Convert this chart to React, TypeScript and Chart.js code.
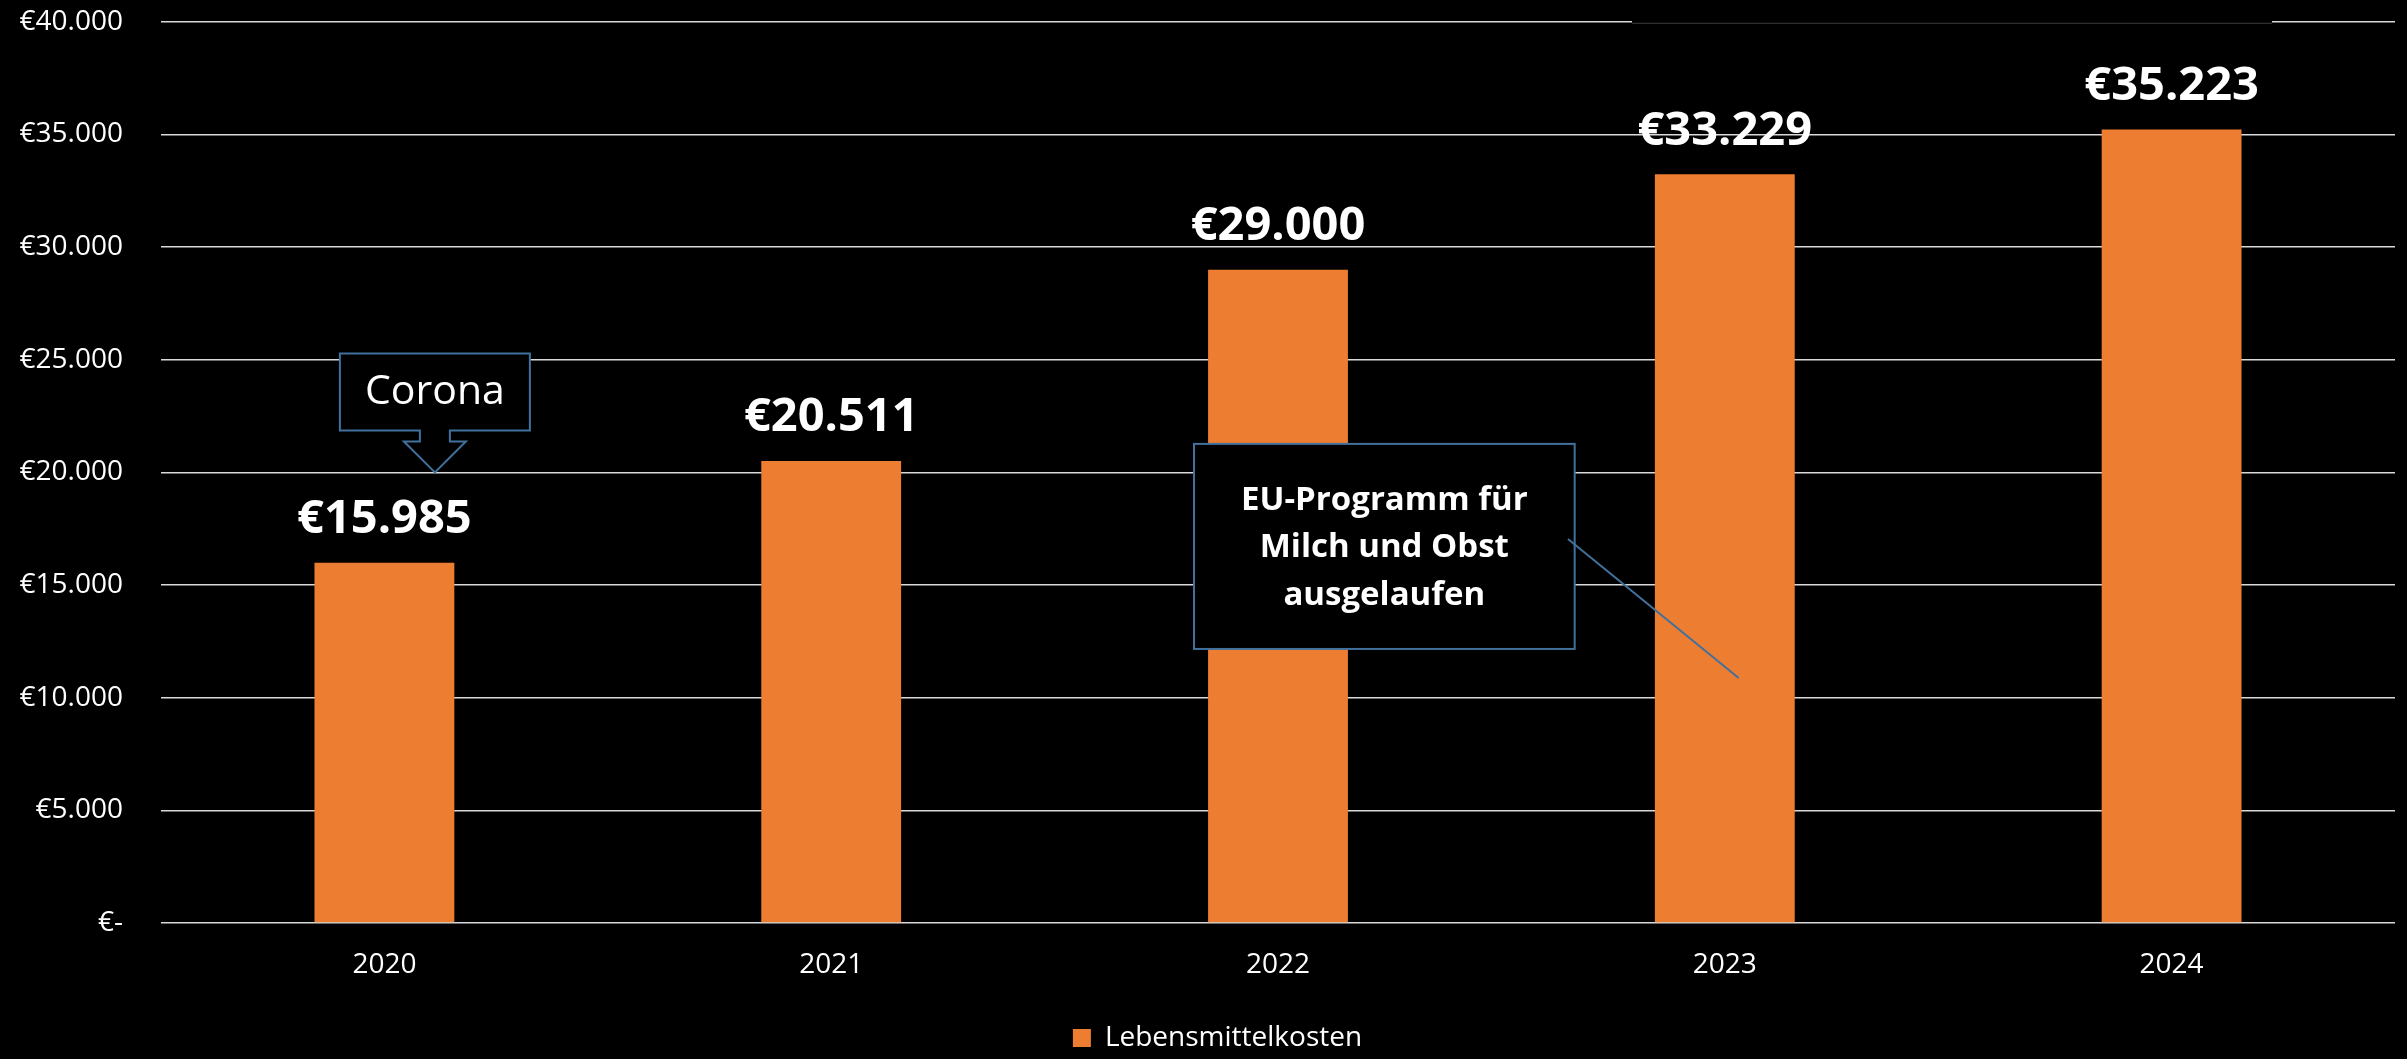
import React, { useEffect, useRef } from 'react';
import { Chart, registerables } from 'chart.js';

Chart.register(...registerables);

const categories = ['2020', '2021', '2022', '2023', '2024'];
const values = [15985, 20511, 29000, 33229, 35223];
const seriesLabel = 'Lebensmittelkosten';
const yMin = 0;
const yMax = 40000;
const yStep = 5000;
const coronaText = 'Corona';
const euText = ['EU-Programm für', 'Milch und Obst', 'ausgelaufen'];

const BAR_COLOR = '#ED7D31';
const CALLOUT_COLOR = '#41719C';
const FONT = '"Open Sans", "Noto Sans", sans-serif';
const SHIFT = 33; // canvas is shifted up to compensate Chart.js tick padding at top

const fmt = (v: number) =>
  v === 0 ? '€-' : '€' + Math.round(v).toString().replace(/\B(?=(\d{3})+(?!\d))/g, '.');

const legendShiftPlugin = {
  id: 'legendShift',
  afterLayout(chart: any) {
    if (chart.legend) {
      chart.legend.left += 20;
      chart.legend.right += 20;
    }
  },
};

const annotationPlugin = {
  id: 'annotations',
  afterDatasetsDraw(chart: any) {
    const ctx = chart.ctx;
    const xs = chart.scales.x;
    const ys = chart.scales.y;
    ctx.save();

    // value labels
    const meta = chart.getDatasetMeta(0);
    ctx.fillStyle = '#FFFFFF';
    ctx.font = `bold 47px ${FONT}`;
    ctx.textAlign = 'center';
    ctx.textBaseline = 'middle';
    meta.data.forEach((bar: any, i: number) => {
      ctx.fillText(fmt(values[i]), bar.x, bar.y - 43);
    });

    // dark strip over top gridline at right (overlapping picture edge)
    const gTop = ys.getPixelForValue(yMax);
    ctx.fillStyle = '#000000';
    ctx.fillRect(1632, gTop - 22, 640, 24);
    ctx.strokeStyle = '#3a3a3a';
    ctx.lineWidth = 1;
    ctx.beginPath();
    ctx.moveTo(1632, gTop + 1.5);
    ctx.lineTo(2272, gTop + 1.5);
    ctx.stroke();

    // Corona callout (arrow pointing down)
    const tx = xs.getPixelForValue(0.113);
    const ty = ys.getPixelForValue(20000);
    const bw = 190;
    const bTop = ty - 119;
    const bBot = ty - 42;
    ctx.beginPath();
    ctx.moveTo(tx - bw / 2, bTop);
    ctx.lineTo(tx + bw / 2, bTop);
    ctx.lineTo(tx + bw / 2, bBot);
    ctx.lineTo(tx + 15, bBot);
    ctx.lineTo(tx + 15, ty - 31);
    ctx.lineTo(tx + 31, ty - 31);
    ctx.lineTo(tx, ty);
    ctx.lineTo(tx - 31, ty - 31);
    ctx.lineTo(tx - 15, ty - 31);
    ctx.lineTo(tx - 15, bBot);
    ctx.lineTo(tx - bw / 2, bBot);
    ctx.closePath();
    ctx.fillStyle = '#000000';
    ctx.fill();
    ctx.strokeStyle = CALLOUT_COLOR;
    ctx.lineWidth = 2;
    ctx.stroke();
    ctx.fillStyle = '#FFFFFF';
    ctx.font = `41px ${FONT}`;
    ctx.fillText(coronaText, tx, (bTop + bBot) / 2);

    // EU callout box with leader line
    const ex1 = xs.getPixelForValue(1.812);
    const ex2 = xs.getPixelForValue(2.664);
    const ey1 = ys.getPixelForValue(21265);
    const ey2 = ys.getPixelForValue(12164);
    ctx.fillStyle = '#000000';
    ctx.fillRect(ex1, ey1, ex2 - ex1, ey2 - ey1);
    ctx.strokeStyle = CALLOUT_COLOR;
    ctx.lineWidth = 2;
    ctx.strokeRect(ex1, ey1, ex2 - ex1, ey2 - ey1);
    ctx.beginPath();
    ctx.moveTo(xs.getPixelForValue(2.649), ys.getPixelForValue(17048));
    ctx.lineTo(xs.getPixelForValue(3.031), ys.getPixelForValue(10877));
    ctx.stroke();
    ctx.fillStyle = '#FFFFFF';
    ctx.font = `bold 33px ${FONT}`;
    const cx = (ex1 + ex2) / 2;
    const cy = (ey1 + ey2) / 2 + 1.5;
    euText.forEach((line, i) => {
      ctx.fillText(line, cx, cy + (i - 1) * 47.5);
    });

    ctx.restore();
  },
};

export default function App() {
  const ref = useRef<HTMLCanvasElement | null>(null);

  useEffect(() => {
    document.body.style.margin = '0';
    document.body.style.background = '#000';
    const canvas = ref.current;
    if (!canvas) return;
    const chart = new Chart(canvas, {
      type: 'bar',
      data: {
        labels: categories,
        datasets: [
          {
            label: seriesLabel,
            data: values,
            backgroundColor: BAR_COLOR,
            borderWidth: 0,
            categoryPercentage: 1,
            barPercentage: 0.313,
          },
        ],
      },
      options: {
        responsive: false,
        animation: false,
        devicePixelRatio: 1,
        layout: { padding: { left: 0, right: 12, top: 0, bottom: 13 } },
        plugins: {
          legend: {
            position: 'bottom',
            labels: {
              color: '#FFFFFF',
              font: { family: FONT, size: 28 },
              boxWidth: 18,
              boxHeight: 18,
              padding: 10,
            },
          },
          tooltip: { enabled: false },
        },
        scales: {
          x: {
            grid: { display: false, drawTicks: false },
            border: { display: false },
            ticks: { color: '#FFFFFF', font: { family: FONT, size: 28 }, padding: 25 },
            afterFit: (s: any) => {
              s.height = 91;
            },
          },
          y: {
            min: yMin,
            max: yMax,
            grid: { color: '#D9D9D9', lineWidth: 1.5, drawTicks: false },
            border: { display: false },
            ticks: {
              stepSize: yStep,
              color: '#FFFFFF',
              font: { family: FONT, size: 28 },
              padding: 38,
              callback: (v: any) => fmt(Number(v)),
            },
            afterFit: (s: any) => {
              s.width = 161;
            },
          },
        },
      },
      plugins: [annotationPlugin, legendShiftPlugin],
    } as any);
    return () => chart.destroy();
  }, []);

  return (
    <div style={{ position: 'fixed', left: 0, top: 0, width: 2407, height: 1059, overflow: 'hidden', background: '#000' }}>
      <canvas
        ref={ref}
        width={2407}
        height={1075 + SHIFT}
        style={{ display: 'block', marginTop: -SHIFT }}
      />
    </div>
  );
}
